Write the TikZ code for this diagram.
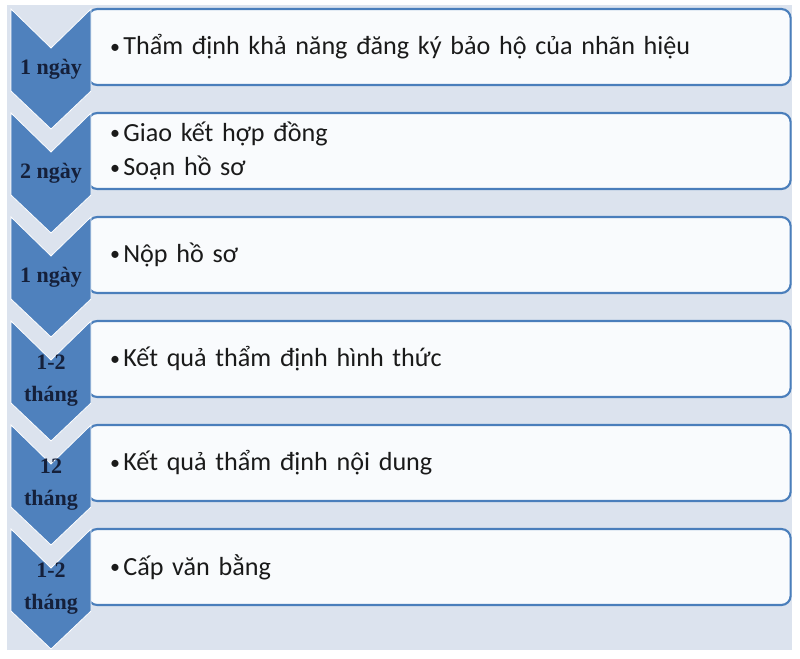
\documentclass[tikz,border=0pt]{standalone}
\usepackage{fontspec}
\setmainfont{Carlito}
\newfontfamily\durfont{Liberation Serif}
\usepackage{xcolor}
\usepackage{tikz}
\usetikzlibrary{positioning}

\definecolor{chevblue}{HTML}{4F81BD}
\definecolor{bgblue}{HTML}{DCE3EE}
\definecolor{boxblue}{HTML}{4A7EBB}
\definecolor{boxfill}{HTML}{F9FBFD}
\definecolor{durtext}{HTML}{15203A}
\definecolor{bodytext}{HTML}{1A1A1A}

\newcommand{\itm}{\makebox[10pt][l]{\raisebox{1.2pt}{\fontsize{15}{15}\selectfont\textbullet}}}

\begin{document}
\begin{tikzpicture}[
    x=0.75pt, y=-0.75pt,
    node distance=21pt,
    box/.style={rectangle, draw=boxblue, line width=1.6pt, fill=boxfill, rounded corners=7pt, outer sep=0pt, minimum height=57pt, text width=494pt, inner xsep=16.5pt, align=left, font=\fontsize{19.6}{26}\selectfont, text=bodytext},
    chevron/.style={fill=chevblue, draw=white, line width=0.6pt},
    dur/.style={align=center, font=\durfont\bfseries\fontsize{16.5}{24}\selectfont, text=durtext}
]

\useasboundingbox (0,0) rectangle (800,658);

% Background
\fill[bgblue] (7,5) rectangle (792,650);

% Steps
\node[box, anchor=north west] (review) at (88,9) {\itm Thẩm định khả năng đăng ký bảo hộ của nhãn hiệu};
\node[box, below=of review] (contract) {\itm Giao kết hợp đồng\\\itm Soạn hồ sơ};
\node[box, below=of contract] (filing) {\itm Nộp hồ sơ};
\node[box, below=of filing] (formal) {\itm Kết quả thẩm định hình thức};
\node[box, below=of formal] (content) {\itm Kết quả thẩm định nội dung};
\node[box, below=of content] (grant) {\itm Cấp văn bằng};

% Chevrons
\draw[chevron] (11,9) -- ++(40,39) -- ++(40,-39) -- ++(0,82) -- ++(-40,38) -- ++(-40,-38) -- cycle;
\draw[chevron] (11,113) -- ++(40,39) -- ++(40,-39) -- ++(0,82) -- ++(-40,38) -- ++(-40,-38) -- cycle;
\draw[chevron] (11,217) -- ++(40,39) -- ++(40,-39) -- ++(0,82) -- ++(-40,38) -- ++(-40,-38) -- cycle;
\draw[chevron] (11,321) -- ++(40,39) -- ++(40,-39) -- ++(0,82) -- ++(-40,38) -- ++(-40,-38) -- cycle;
\draw[chevron] (11,425) -- ++(40,39) -- ++(40,-39) -- ++(0,82) -- ++(-40,38) -- ++(-40,-38) -- cycle;
\draw[chevron] (11,529) -- ++(40,39) -- ++(40,-39) -- ++(0,82) -- ++(-40,38) -- ++(-40,-38) -- cycle;

% Durations
\node[dur] (dreview) at (51,69) {1 ngày};
\node[dur] (dcontract) at (51,173) {2 ngày};
\node[dur] (dfiling) at (51,277) {1 ngày};
\node[dur] (dformal) at (51,381) {1-2\\tháng};
\node[dur] (dcontent) at (51,485) {12\\tháng};
\node[dur] (dgrant) at (51,589) {1-2\\tháng};

\end{tikzpicture}
\end{document}
